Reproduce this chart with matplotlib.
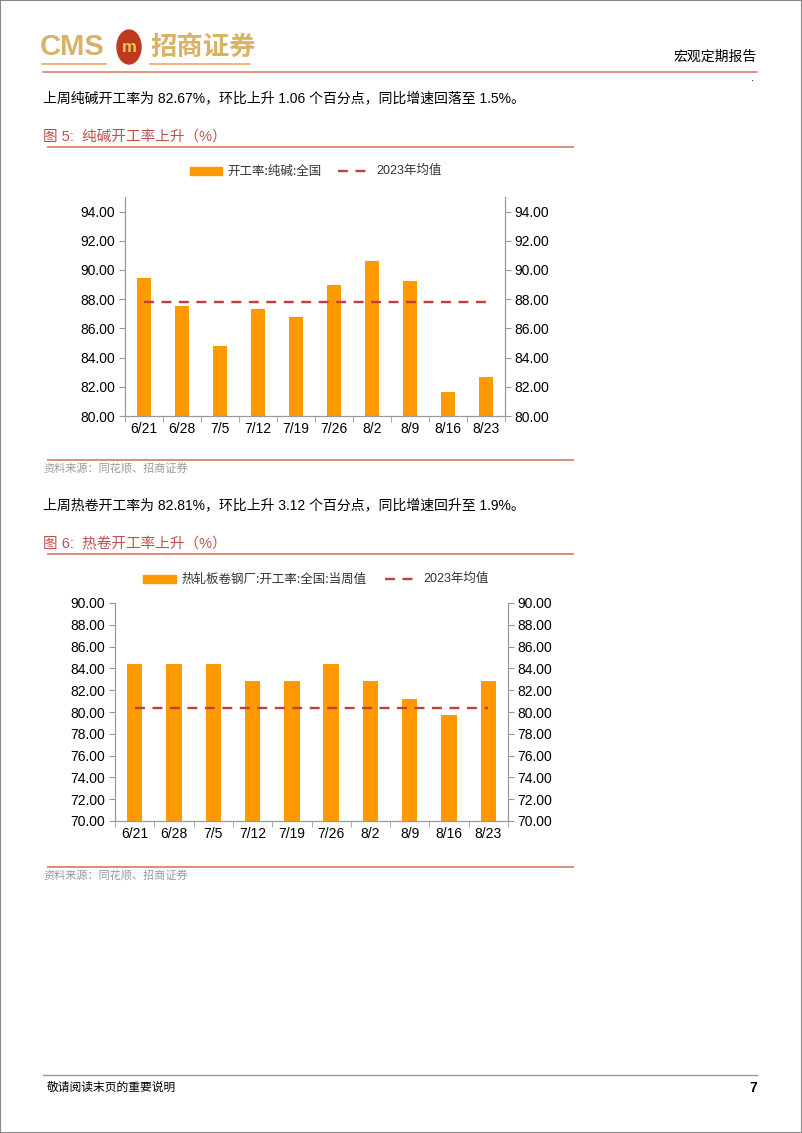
import numpy as np
import matplotlib.pyplot as plt
from matplotlib.patches import Circle, Rectangle
from matplotlib.lines import Line2D

plt.rcParams['font.family'] = ['Liberation Sans', 'Noto Sans CJK SC', 'DejaVu Sans']

# data
dates = ['6/21', '6/28', '7/5', '7/12', '7/19', '7/26', '8/2', '8/9', '8/16', '8/23']
soda_rate = [89.45, 87.55, 84.8, 87.34, 86.8, 89.0, 90.64, 89.27, 81.65, 82.67]
soda_avg = 87.8
hrc_rate = [84.38, 84.38, 84.38, 82.81, 82.81, 84.38, 82.81, 81.22, 79.69, 82.81]
hrc_avg = 80.38

W, H = 802, 1133
ORANGE = '#FF9900'
DASH = '#BE3F3F'
GOLD = '#D8B266'
TITLE_RED = '#C0504D'
RULE = '#D9826A'
DASHES = (4.2, 3.2)
DASH_LW = 1.7

fig = plt.figure(figsize=(W / 100, H / 100), dpi=100)


def fx(x):
    return x / W


def fy(y):
    return 1 - y / H


def txt(x, y, s, **kw):
    kw.setdefault('va', 'center')
    fig.text(fx(x), fy(y), s, **kw)


def hline(x0, x1, y, color, lw=1.0):
    fig.add_artist(Line2D([fx(x0), fx(x1)], [fy(y), fy(y)], color=color, lw=lw,
                          transform=fig.transFigure))


# page border
fig.add_artist(Rectangle((0, 0), 1, 1, transform=fig.transFigure, fill=False,
                         ec='#888888', lw=1.5))

# header / logo
txt(40, 47, 'CMS', fontsize=21, fontweight='bold', color=GOLD)
fig.add_artist(Circle((fx(129), fy(47)), 12 / W, transform=fig.transFigure,
                      color='#C0391E', zorder=3))
txt(129, 47, 'm', fontsize=12, fontweight='bold', color='#F2C75C', ha='center',
    zorder=4)
txt(150, 47, '招商证券', fontsize=19, fontweight='bold', color=GOLD,
    family=['Noto Sans CJK SC'])
hline(42, 106, 64, GOLD, 1.2)
hline(150, 250, 64, GOLD, 1.2)
txt(757, 57, '宏观定期报告', fontsize=10, ha='right', family=['Noto Sans CJK SC'])
hline(43, 757, 72, RULE, 1.2)
txt(752, 78, '.', fontsize=8, ha='center')

# section 1 text
txt(43, 98, '上周纯碱开工率为 82.67%，环比上升 1.06 个百分点，同比增速回落至 1.5%。',
    fontsize=10)
txt(43, 137, '图 5:  纯碱开工率上升（%）', fontsize=10.5, color=TITLE_RED)
hline(48, 573, 147, RULE, 1.3)
hline(48, 573, 460, RULE, 1.3)
txt(43, 469, '资料来源：同花顺、招商证券', fontsize=8, color='#999999')

# section 2 text
txt(43, 505, '上周热卷开工率为 82.81%，环比上升 3.12 个百分点，同比增速回升至 1.9%。',
    fontsize=10)
txt(43, 544, '图 6:  热卷开工率上升（%）', fontsize=10.5, color=TITLE_RED)
hline(48, 573, 554, RULE, 1.3)
hline(48, 573, 867, RULE, 1.3)
txt(43, 876, '资料来源：同花顺、招商证券', fontsize=8, color='#999999')

# footer
hline(43, 757, 1075, '#999999', 1.0)
txt(47, 1088, '敬请阅读末页的重要说明', fontsize=8.5)
txt(757, 1088, '7', fontsize=10, fontweight='bold', ha='right')


def bar_chart(box, values, avg, ylim, yticks, bar_label, leg_y, leg_x):
    left, right, top, bottom = box
    ax = fig.add_axes([fx(left), fy(bottom), (right - left) / W, (bottom - top) / H])
    x = np.arange(len(dates))
    ax.bar(x, [v - ylim[0] for v in values], bottom=ylim[0], width=0.39,
           color=ORANGE, zorder=2)
    ax.plot(x, [avg] * len(x), color=DASH, lw=DASH_LW, dashes=DASHES, zorder=3)
    ax.set_xlim(-0.5, len(dates) - 0.5)
    ax.set_ylim(*ylim)
    ax.set_yticks(yticks)
    ax.set_yticklabels([f'{t:.2f}' for t in yticks], fontsize=10)
    ax.set_xticks(x)
    ax.set_xticklabels(dates, fontsize=10)
    ax.set_xticks(np.arange(-0.5, len(dates), 1), minor=True)
    ax.tick_params(axis='x', which='major', length=0, pad=4)
    ax.tick_params(axis='x', which='minor', length=4, color='#999999')
    ax.tick_params(axis='y', length=4, color='#999999', direction='out', pad=3)
    for s in ['left', 'right', 'bottom']:
        ax.spines[s].set_color('#999999')
    ax.spines['top'].set_visible(False)
    ax2 = ax.twinx()
    ax2.set_ylim(*ylim)
    ax2.set_yticks(yticks)
    ax2.set_yticklabels([f'{t:.2f}' for t in yticks], fontsize=10)
    ax2.tick_params(axis='y', length=4, color='#999999', pad=3)
    for s in ['left', 'right', 'bottom']:
        ax2.spines[s].set_color('#999999')
    ax2.spines['top'].set_visible(False)

    # legend
    px0, px1, dx0, dx1 = leg_x
    fig.add_artist(Rectangle((fx(px0), fy(leg_y + 4)), (px1 - px0) / W, 8 / H,
                             transform=fig.transFigure, color=ORANGE))
    txt(px1 + 5, leg_y, bar_label, fontsize=9, color='#333333',
        family=['Noto Sans CJK SC', 'Liberation Sans'])
    fig.add_artist(Line2D([fx(dx0), fx(dx1)], [fy(leg_y), fy(leg_y)], color=DASH,
                          lw=DASH_LW, dashes=DASHES, transform=fig.transFigure))
    txt(dx1 + 5, leg_y, '2023年均值', fontsize=9, color='#333333')
    return ax


bar_chart((125, 505, 197, 416), soda_rate, soda_avg, (80, 95),
          np.arange(80, 95, 2), '开工率:纯碱:全国', 171, (190, 222, 338, 371))
bar_chart((115, 508, 603, 821), hrc_rate, hrc_avg, (70, 90),
          np.arange(70, 91, 2), '热轧板卷钢厂:开工率:全国:当周值', 579,
          (143, 176, 385, 418))

fig.savefig('out.png', dpi=100)
